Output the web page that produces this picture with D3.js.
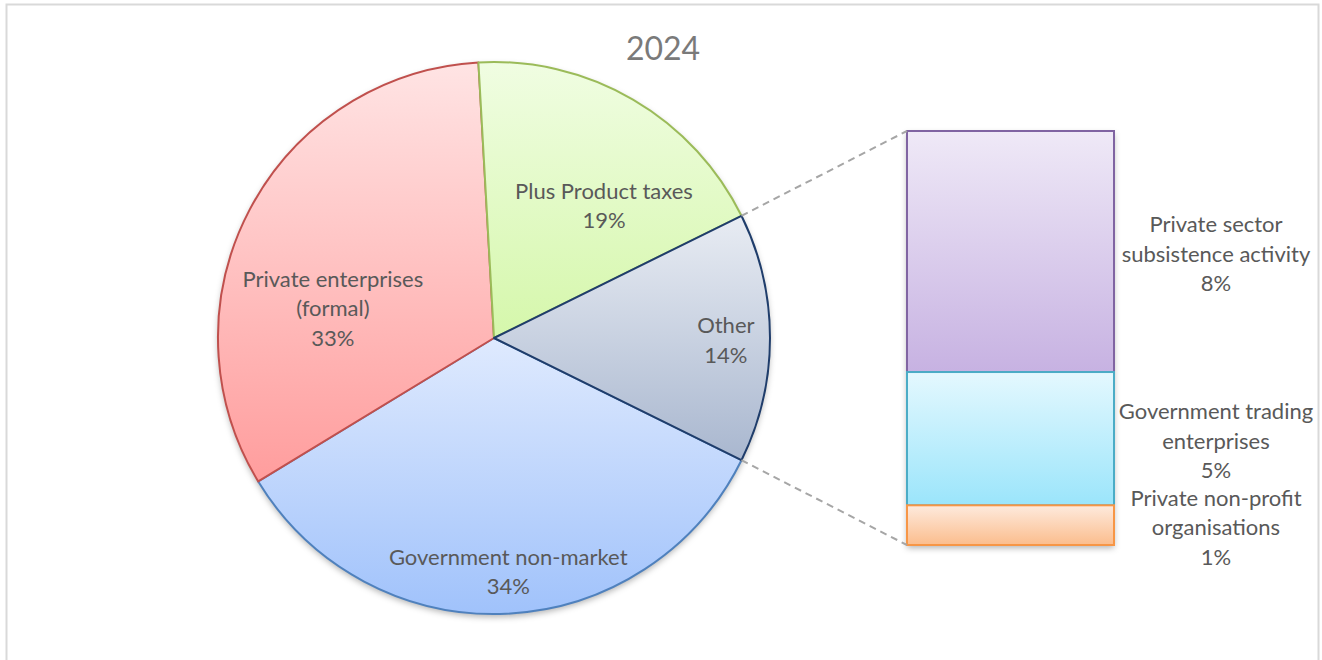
<!DOCTYPE html>
<html>
<head>
<meta charset="utf-8">
<script src="https://cdn.jsdelivr.net/npm/d3@7"></script>
<style>
  html, body { margin: 0; padding: 0; background: #ffffff; }
  svg { display: block; }
  text { font-family: Lato, "Open Sans", sans-serif; }
</style>
</head>
<body>
<svg id="chart" width="1322" height="660"></svg>
<script>
// ---------- data ----------
const title = "2024";
const pieCategories = ["Plus Product taxes", "Other", "Government non-market", "Private enterprises (formal)"];
const pieValues = [18.6, 14.6, 34.0, 32.8];
const pieLabelLines = [["Plus Product taxes", "19%"], ["Other", "14%"], ["Government non-market", "34%"], ["Private enterprises", "(formal)", "33%"]];
const barCategories = ["Private sector subsistence activity", "Government trading enterprises", "Private non-profit organisations"];
const barValues = [8.5, 4.7, 1.4];
const barLabelLines = [["Private sector", "subsistence activity", "8%"], ["Government trading", "enterprises", "5%"], ["Private non-profit", "organisations", "1%"]];

// ---------- styles / layout ----------
const pieStyle = [
  { stroke: "#9bbb59", top: "#f0fde2", bottom: "#d5f7ab" },
  { stroke: "#1f3d6b", top: "#e8ecf3", bottom: "#a9b7cf" },
  { stroke: "#4f81bd", top: "#dfeafe", bottom: "#a0c2fb" },
  { stroke: "#c0504d", top: "#ffe4e4", bottom: "#ff9d9d" }
];
// drawing order of slices (later ones draw their outline on top)
const pieDrawOrder = [2, 3, 0, 1];
const barStyle = [
  { stroke: "#8064a2", top: "#efe9f7", bottom: "#c7b2e2" },
  { stroke: "#4bacc6", top: "#e4f8fe", bottom: "#9be5fb" },
  { stroke: "#f79646", top: "#feeadd", bottom: "#fbbd8d" }
];
// label placement: angle shift (deg) and radius fraction per slice
const pieLabelLayout = [
  { dAngle: 9, rFrac: 0.63 },
  { dAngle: 0, rFrac: 0.84 },
  { dAngle: -1, rFrac: 0.84 },
  { dAngle: -16.6, rFrac: 0.595 }
];
const cx = 494, cy = 338, R = 276;
const barX0 = 907, barX1 = 1114, barTop = 131, barBottom = 545;
const lineGap = 29.5, fontSize = 22;
const textColor = "#595959";

const svg = d3.select("#chart");
const defs = svg.append("defs");

function addGrad(id, top, bottom) {
  const g = defs.append("linearGradient").attr("id", id)
    .attr("x1", 0).attr("y1", 0).attr("x2", 0).attr("y2", 1);
  g.append("stop").attr("offset", "0%").attr("stop-color", top);
  g.append("stop").attr("offset", "100%").attr("stop-color", bottom);
}
pieStyle.forEach((s, i) => addGrad("pg" + i, s.top, s.bottom));
barStyle.forEach((s, i) => addGrad("bg" + i, s.top, s.bottom));

const shadow = defs.append("filter").attr("id", "shadow")
  .attr("x", "-10%").attr("y", "-10%").attr("width", "120%").attr("height", "125%");
shadow.append("feDropShadow").attr("dx", 0).attr("dy", 3).attr("stdDeviation", 3)
  .attr("flood-color", "#000").attr("flood-opacity", 0.3);

// frame
svg.append("rect").attr("x", 6.5).attr("y", 4.5).attr("width", 1312).attr("height", 700)
  .attr("fill", "#ffffff").attr("stroke", "#d9d9d9").attr("stroke-width", 2);

// title
svg.append("text").attr("x", 663).attr("y", 60).attr("text-anchor", "middle")
  .attr("font-size", 32).attr("fill", "#7a7a7a").text(title);

// ---------- pie ----------
const total = d3.sum(pieValues);
const otherIdx = 1;
const frac = v => v / total * 2 * Math.PI;
// rotate so that the "Other" slice is centred on the right (pointing at the bar)
const startAngle = Math.PI / 2 - (frac(pieValues[0]) + frac(pieValues[otherIdx]) / 2);
const pie = d3.pie().sort(null).value(d => d)
  .startAngle(startAngle).endAngle(startAngle + 2 * Math.PI);
const arcs = pie(pieValues);
const arcGen = d3.arc().innerRadius(0).outerRadius(R);

const pieG = svg.append("g").attr("transform", `translate(${cx},${cy})`);
pieG.append("circle").attr("r", R).attr("fill", "#ffffff").attr("filter", "url(#shadow)");
pieG.selectAll("path.slice").data(pieDrawOrder.map(i => ({ a: arcs[i], i }))).enter().append("path")
  .attr("class", "slice")
  .attr("d", d => arcGen(d.a))
  .attr("fill", d => `url(#pg${d.i})`)
  .attr("stroke", d => pieStyle[d.i].stroke)
  .attr("stroke-width", 2)
  .attr("stroke-linejoin", "round");

// ---------- bar of pie ----------
const barTotal = d3.sum(barValues);
const y = d3.scaleLinear().domain([0, barTotal]).range([barBottom, barTop]);
// stack from bottom: last category at the bottom
const stacked = [];
let acc = 0;
for (let i = barValues.length - 1; i >= 0; i--) {
  stacked[i] = { y0: acc, y1: acc + barValues[i] };
  acc += barValues[i];
}
const barG = svg.append("g");
barG.append("rect").attr("x", barX0).attr("y", y(barTotal)).attr("width", barX1 - barX0)
  .attr("height", y(0) - y(barTotal)).attr("fill", "#ffffff").attr("filter", "url(#shadow)");
barG.selectAll("rect.seg").data(stacked).enter().append("rect")
  .attr("class", "seg")
  .attr("x", barX0)
  .attr("y", d => y(d.y1))
  .attr("width", barX1 - barX0)
  .attr("height", d => y(d.y0) - y(d.y1))
  .attr("fill", (d, i) => `url(#bg${i})`)
  .attr("stroke", (d, i) => barStyle[i].stroke)
  .attr("stroke-width", 2);

// connector lines
const oa = arcs[otherIdx];
const pt = a => [cx + R * Math.sin(a), cy - R * Math.cos(a)];
const p1 = pt(oa.startAngle), p2 = pt(oa.endAngle);
svg.append("line").attr("x1", p1[0]).attr("y1", p1[1]).attr("x2", barX0).attr("y2", y(barTotal))
  .attr("stroke", "#a6a6a6").attr("stroke-width", 2).attr("stroke-dasharray", "7,5");
svg.append("line").attr("x1", p2[0]).attr("y1", p2[1]).attr("x2", barX0).attr("y2", y(0))
  .attr("stroke", "#a6a6a6").attr("stroke-width", 2).attr("stroke-dasharray", "7,5");

// ---------- labels ----------
function multiline(x, yMid, lines) {
  const t = svg.append("text").attr("text-anchor", "middle")
    .attr("font-size", fontSize).attr("fill", textColor);
  const n = lines.length;
  lines.forEach((ln, k) => {
    t.append("tspan").attr("x", x)
      .attr("y", yMid + (k - (n - 1) / 2) * lineGap)
      .attr("dy", "0.46em").text(ln);
  });
}
arcs.forEach((a, i) => {
  const mid = (a.startAngle + a.endAngle) / 2 + pieLabelLayout[i].dAngle * Math.PI / 180;
  const rr = R * pieLabelLayout[i].rFrac;
  multiline(cx + rr * Math.sin(mid), cy - rr * Math.cos(mid), pieLabelLines[i]);
});
stacked.forEach((d, i) => {
  multiline(barX1 + 102, (y(d.y0) + y(d.y1)) / 2, barLabelLines[i]);
});
</script>
</body>
</html>
